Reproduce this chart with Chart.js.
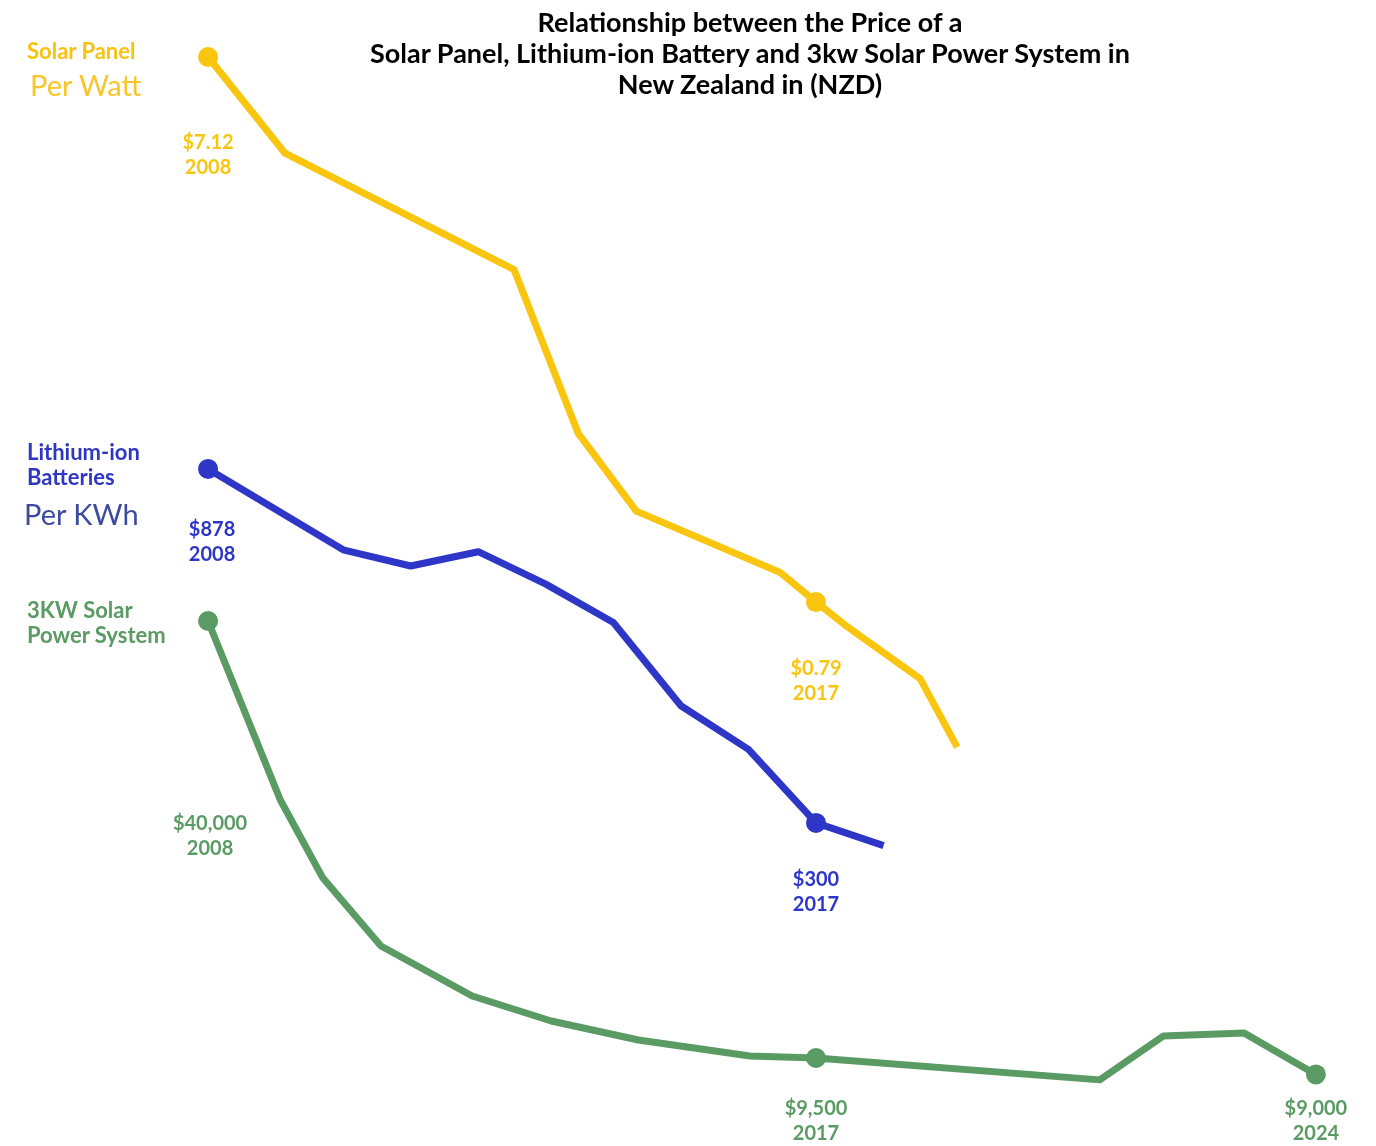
<!DOCTYPE html>
<html>
<head>
<meta charset="utf-8">
<script src="https://cdn.jsdelivr.net/npm/chart.js@4/dist/chart.umd.min.js"></script>
<style>
  html, body { margin: 0; background: #fff; font-family: Lato, sans-serif; overflow: hidden; }
  #wrap { position: relative; width: 1376px; height: 1146px; overflow: hidden; }
  #wrap canvas { display: block; }
  .txt { position: absolute; white-space: nowrap; }
  #titulo { left: 0; width: 1500px; top: 6px; text-align: center; font-weight: 700; font-size: 27px; line-height: 31px; color: #000; }
  .nome { font-weight: 700; font-size: 22px; line-height: 25px; }
  .unidade { font-size: 29px; line-height: 32px; }
</style>
</head>
<body>
<div id="wrap">
  <canvas id="grafico"></canvas>
  <div id="titulo" class="txt">Relationship between the Price of a<br>Solar Panel, Lithium-ion Battery and 3kw Solar Power System in<br>New Zealand in (NZD)</div>
  <div class="txt nome" style="left:27px;top:38px;color:#F8C30F">Solar Panel</div>
  <div class="txt unidade" style="left:30px;top:69px;color:#F8C52A">Per Watt</div>
  <div class="txt nome" style="left:27px;top:439px;color:#2F37C2">Lithium-ion<br>Batteries</div>
  <div class="txt unidade" style="left:24px;top:498px;color:#3D4A9E">Per KWh</div>
  <div class="txt nome" style="left:27px;top:597px;color:#5A9A63">3KW Solar<br>Power System</div>
</div>
<script>
// anos (x) e precos (NZD)
const anosPainel = [2008, 2009.14, 2012.53, 2013.48, 2014.34, 2016.47, 2017, 2017.43, 2018.54, 2019.09];
const precoPainel = [7.12, 4.83, 3.02, 1.56, 1.14, 0.89, 0.79, 0.72, 0.58, 0.44];

const anosBateria = [2008, 2010, 2011, 2012, 2013, 2014, 2015, 2016, 2017, 2018];
const precoBateria = [878, 687, 654, 683, 619, 551, 428, 375, 300, 280];

const anosSistema = [2008, 2009.07, 2009.7, 2010.56, 2011.91, 2013.08, 2014.37, 2016.02, 2017, 2021.2, 2022.14, 2023.34, 2024.4];
const precoSistema = [40000, 22200, 17170, 13730, 11650, 10730, 10080, 9560, 9500, 8840, 10210, 10310, 9000];

// pontos destacados (indices) em cada serie
const destaquesPainel = [0, 6];
const destaquesBateria = [0, 8];
const destaquesSistema = [0, 8, 12];

const amarelo = '#F9C50E';
const azul = '#2E36C8';
const verde = '#5A9B64';

function pontos(anos, precos) {
    return anos.map((a, i) => ({ x: a, y: precos[i] }));
}
function raios(n, destaques) {
    const r = [];
    for (let i = 0; i < n; i++) r.push(destaques.includes(i) ? 10 : 0);
    return r;
}

// rotulos de valor / ano junto aos pontos destacados
const rotulos = [
    { ds: 0, i: 0, dy: 86, dec: 2 },
    { ds: 0, i: 6, dy: 66, dec: 2 },
    { ds: 1, i: 0, dx: 4, dy: 61, dec: 0 },
    { ds: 1, i: 8, dy: 57, dec: 0 },
    { ds: 2, i: 0, dx: 2, dy: 203, dec: 0 },
    { ds: 2, i: 8, dy: 51, dec: 0 },
    { ds: 2, i: 12, dy: 34, dec: 0 }
];

const pluginRotulos = {
    id: 'rotulos',
    afterDatasetsDraw(chart) {
        const ctx = chart.ctx;
        ctx.save();
        ctx.font = 'bold 20px Lato';
        ctx.textAlign = 'center';
        ctx.textBaseline = 'middle';
        rotulos.forEach(r => {
            const ds = chart.data.datasets[r.ds];
            const p = chart.getDatasetMeta(r.ds).data[r.i];
            const v = ds.data[r.i];
            const preco = r.dec ? v.y.toFixed(2) : v.y.toLocaleString('en-US');
            const x = p.x + (r.dx || 0);
            ctx.fillStyle = ds.borderColor;
            ctx.fillText('$' + preco, x, p.y + r.dy);
            ctx.fillText(String(Math.round(v.x)), x, p.y + r.dy + 25);
        });
        ctx.restore();
    }
};

const ctx = document.getElementById('grafico').getContext('2d');
new Chart(ctx, {
    type: 'line',
    data: {
        datasets: [{
            label: 'Solar Panel Per Watt',
            data: pontos(anosPainel, precoPainel),
            yAxisID: 'yPainel',
            borderColor: amarelo,
            pointBackgroundColor: amarelo,
            pointRadius: raios(anosPainel.length, destaquesPainel)
        }, {
            label: 'Lithium-ion Batteries Per KWh',
            data: pontos(anosBateria, precoBateria),
            yAxisID: 'yBateria',
            borderColor: azul,
            pointBackgroundColor: azul,
            pointRadius: raios(anosBateria.length, destaquesBateria)
        }, {
            label: '3KW Solar Power System',
            data: pontos(anosSistema, precoSistema),
            yAxisID: 'ySistema',
            borderColor: verde,
            pointBackgroundColor: verde,
            pointRadius: raios(anosSistema.length, destaquesSistema)
        }]
    },
    options: {
        responsive: true,
        maintainAspectRatio: false,
        animation: false,
        layout: { padding: 0, autoPadding: false },
        elements: {
            line: { borderWidth: 7, tension: 0, borderJoinStyle: 'round' },
            point: { borderWidth: 0, hoverRadius: 10 }
        },
        plugins: {
            legend: { display: false },
            title: { display: false },
            tooltip: { enabled: false }
        },
        scales: {
            x: { type: 'linear', display: false, bounds: 'data', min: 2004.92, max: 2025.29 },
            yPainel: { type: 'logarithmic', display: false, bounds: 'data', min: 0.08804, max: 8.962 },
            yBateria: { type: 'logarithmic', display: false, bounds: 'data', min: 112.6, max: 3641 },
            ySistema: { type: 'logarithmic', display: false, bounds: 'data', min: 7112, max: 308500 }
        }
    },
    plugins: [pluginRotulos]
});
</script>
</body>
</html>
